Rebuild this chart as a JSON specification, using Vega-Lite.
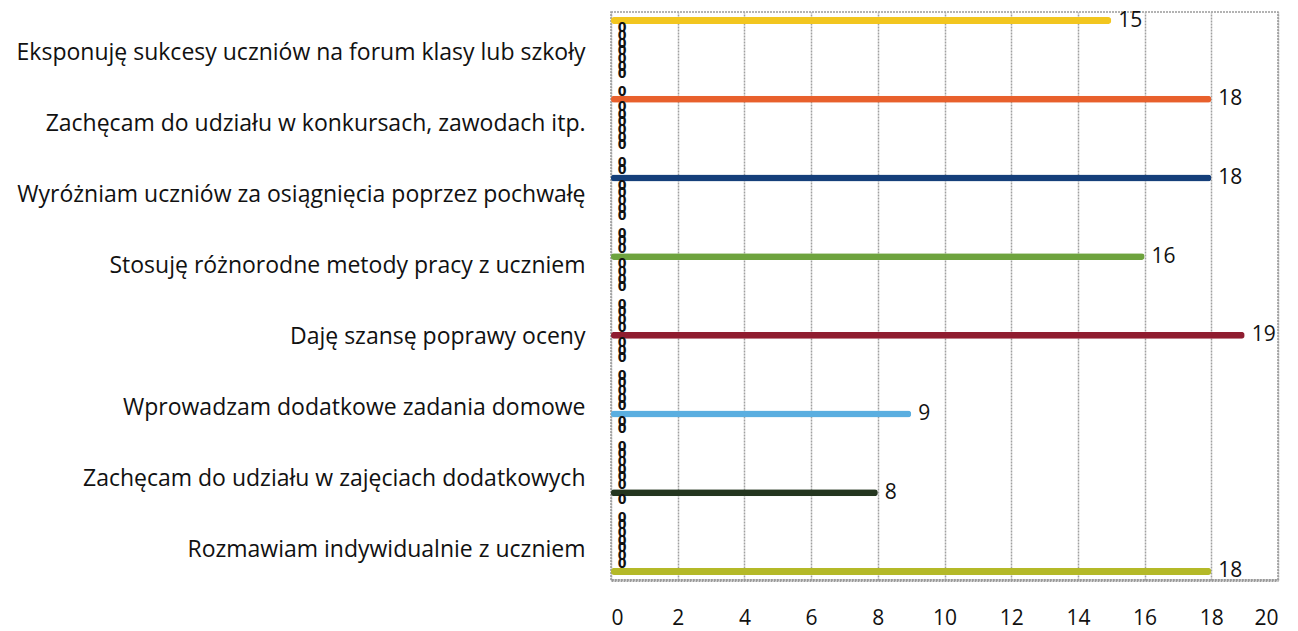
{
  "$schema": "https://vega.github.io/schema/vega-lite/v6.json",
  "autosize": {"type": "none"},
  "padding": {"left": 611, "top": 12, "right": 20, "bottom": 51},
  "width": 667,
  "height": 568,
  "background": "white",
  "config": {
    "font": "Open Sans",
    "view": {"stroke": "#9a9a9a", "strokeWidth": 1.5, "strokeDash": [2, 1]},
    "axis": {"labelFont": "Open Sans", "labelColor": "#111", "titleFont": "Open Sans"}
  },
  "data": {"values": [
    {"kategoria": "Eksponuję sukcesy uczniów na forum klasy lub szkoły", "seria": 1, "wartosc": 0},
    {"kategoria": "Eksponuję sukcesy uczniów na forum klasy lub szkoły", "seria": 2, "wartosc": 0},
    {"kategoria": "Eksponuję sukcesy uczniów na forum klasy lub szkoły", "seria": 3, "wartosc": 0},
    {"kategoria": "Eksponuję sukcesy uczniów na forum klasy lub szkoły", "seria": 4, "wartosc": 0},
    {"kategoria": "Eksponuję sukcesy uczniów na forum klasy lub szkoły", "seria": 5, "wartosc": 0},
    {"kategoria": "Eksponuję sukcesy uczniów na forum klasy lub szkoły", "seria": 6, "wartosc": 0},
    {"kategoria": "Eksponuję sukcesy uczniów na forum klasy lub szkoły", "seria": 7, "wartosc": 0},
    {"kategoria": "Eksponuję sukcesy uczniów na forum klasy lub szkoły", "seria": 8, "wartosc": 15},
    {"kategoria": "Zachęcam do udziału w konkursach, zawodach itp.", "seria": 1, "wartosc": 0},
    {"kategoria": "Zachęcam do udziału w konkursach, zawodach itp.", "seria": 2, "wartosc": 0},
    {"kategoria": "Zachęcam do udziału w konkursach, zawodach itp.", "seria": 3, "wartosc": 0},
    {"kategoria": "Zachęcam do udziału w konkursach, zawodach itp.", "seria": 4, "wartosc": 0},
    {"kategoria": "Zachęcam do udziału w konkursach, zawodach itp.", "seria": 5, "wartosc": 0},
    {"kategoria": "Zachęcam do udziału w konkursach, zawodach itp.", "seria": 6, "wartosc": 0},
    {"kategoria": "Zachęcam do udziału w konkursach, zawodach itp.", "seria": 7, "wartosc": 18},
    {"kategoria": "Zachęcam do udziału w konkursach, zawodach itp.", "seria": 8, "wartosc": 0},
    {"kategoria": "Wyróżniam uczniów za osiągnięcia poprzez pochwałę", "seria": 1, "wartosc": 0},
    {"kategoria": "Wyróżniam uczniów za osiągnięcia poprzez pochwałę", "seria": 2, "wartosc": 0},
    {"kategoria": "Wyróżniam uczniów za osiągnięcia poprzez pochwałę", "seria": 3, "wartosc": 0},
    {"kategoria": "Wyróżniam uczniów za osiągnięcia poprzez pochwałę", "seria": 4, "wartosc": 0},
    {"kategoria": "Wyróżniam uczniów za osiągnięcia poprzez pochwałę", "seria": 5, "wartosc": 0},
    {"kategoria": "Wyróżniam uczniów za osiągnięcia poprzez pochwałę", "seria": 6, "wartosc": 18},
    {"kategoria": "Wyróżniam uczniów za osiągnięcia poprzez pochwałę", "seria": 7, "wartosc": 0},
    {"kategoria": "Wyróżniam uczniów za osiągnięcia poprzez pochwałę", "seria": 8, "wartosc": 0},
    {"kategoria": "Stosuję różnorodne metody pracy z uczniem", "seria": 1, "wartosc": 0},
    {"kategoria": "Stosuję różnorodne metody pracy z uczniem", "seria": 2, "wartosc": 0},
    {"kategoria": "Stosuję różnorodne metody pracy z uczniem", "seria": 3, "wartosc": 0},
    {"kategoria": "Stosuję różnorodne metody pracy z uczniem", "seria": 4, "wartosc": 0},
    {"kategoria": "Stosuję różnorodne metody pracy z uczniem", "seria": 5, "wartosc": 16},
    {"kategoria": "Stosuję różnorodne metody pracy z uczniem", "seria": 6, "wartosc": 0},
    {"kategoria": "Stosuję różnorodne metody pracy z uczniem", "seria": 7, "wartosc": 0},
    {"kategoria": "Stosuję różnorodne metody pracy z uczniem", "seria": 8, "wartosc": 0},
    {"kategoria": "Daję szansę poprawy oceny", "seria": 1, "wartosc": 0},
    {"kategoria": "Daję szansę poprawy oceny", "seria": 2, "wartosc": 0},
    {"kategoria": "Daję szansę poprawy oceny", "seria": 3, "wartosc": 0},
    {"kategoria": "Daję szansę poprawy oceny", "seria": 4, "wartosc": 19},
    {"kategoria": "Daję szansę poprawy oceny", "seria": 5, "wartosc": 0},
    {"kategoria": "Daję szansę poprawy oceny", "seria": 6, "wartosc": 0},
    {"kategoria": "Daję szansę poprawy oceny", "seria": 7, "wartosc": 0},
    {"kategoria": "Daję szansę poprawy oceny", "seria": 8, "wartosc": 0},
    {"kategoria": "Wprowadzam dodatkowe zadania domowe", "seria": 1, "wartosc": 0},
    {"kategoria": "Wprowadzam dodatkowe zadania domowe", "seria": 2, "wartosc": 0},
    {"kategoria": "Wprowadzam dodatkowe zadania domowe", "seria": 3, "wartosc": 9},
    {"kategoria": "Wprowadzam dodatkowe zadania domowe", "seria": 4, "wartosc": 0},
    {"kategoria": "Wprowadzam dodatkowe zadania domowe", "seria": 5, "wartosc": 0},
    {"kategoria": "Wprowadzam dodatkowe zadania domowe", "seria": 6, "wartosc": 0},
    {"kategoria": "Wprowadzam dodatkowe zadania domowe", "seria": 7, "wartosc": 0},
    {"kategoria": "Wprowadzam dodatkowe zadania domowe", "seria": 8, "wartosc": 0},
    {"kategoria": "Zachęcam do udziału w zajęciach dodatkowych", "seria": 1, "wartosc": 0},
    {"kategoria": "Zachęcam do udziału w zajęciach dodatkowych", "seria": 2, "wartosc": 8},
    {"kategoria": "Zachęcam do udziału w zajęciach dodatkowych", "seria": 3, "wartosc": 0},
    {"kategoria": "Zachęcam do udziału w zajęciach dodatkowych", "seria": 4, "wartosc": 0},
    {"kategoria": "Zachęcam do udziału w zajęciach dodatkowych", "seria": 5, "wartosc": 0},
    {"kategoria": "Zachęcam do udziału w zajęciach dodatkowych", "seria": 6, "wartosc": 0},
    {"kategoria": "Zachęcam do udziału w zajęciach dodatkowych", "seria": 7, "wartosc": 0},
    {"kategoria": "Zachęcam do udziału w zajęciach dodatkowych", "seria": 8, "wartosc": 0},
    {"kategoria": "Rozmawiam indywidualnie z uczniem", "seria": 1, "wartosc": 18},
    {"kategoria": "Rozmawiam indywidualnie z uczniem", "seria": 2, "wartosc": 0},
    {"kategoria": "Rozmawiam indywidualnie z uczniem", "seria": 3, "wartosc": 0},
    {"kategoria": "Rozmawiam indywidualnie z uczniem", "seria": 4, "wartosc": 0},
    {"kategoria": "Rozmawiam indywidualnie z uczniem", "seria": 5, "wartosc": 0},
    {"kategoria": "Rozmawiam indywidualnie z uczniem", "seria": 6, "wartosc": 0},
    {"kategoria": "Rozmawiam indywidualnie z uczniem", "seria": 7, "wartosc": 0},
    {"kategoria": "Rozmawiam indywidualnie z uczniem", "seria": 8, "wartosc": 0}
  ]},
  "encoding": {
    "y": {
      "field": "kategoria", "type": "nominal",
      "sort": [
        "Eksponuję sukcesy uczniów na forum klasy lub szkoły",
        "Zachęcam do udziału w konkursach, zawodach itp.",
        "Wyróżniam uczniów za osiągnięcia poprzez pochwałę",
        "Stosuję różnorodne metody pracy z uczniem",
        "Daję szansę poprawy oceny",
        "Wprowadzam dodatkowe zadania domowe",
        "Zachęcam do udziału w zajęciach dodatkowych",
        "Rozmawiam indywidualnie z uczniem"
      ],
      "scale": {"paddingInner": 0.144, "paddingOuter": 0.072},
      "axis": {"title": null, "ticks": false, "domain": false, "labelFontSize": 23, "labelPadding": 26, "labelOffset": 5, "labelLimit": 700}
    },
    "yOffset": {
      "field": "seria", "type": "ordinal", "sort": "descending",
      "scale": {"paddingInner": 0.1, "paddingOuter": 0}
    },
    "x": {
      "field": "wartosc", "type": "quantitative",
      "scale": {"domain": [0, 20], "nice": false},
      "axis": {"title": null, "values": [0, 2, 4, 6, 8, 10, 12, 14, 16, 18, 20], "labelFontSize": 21, "labelPadding": 27, "ticks": false, "domain": true, "domainColor": "#9a9a9a", "domainWidth": 3, "domainDash": [2, 1], "grid": true, "gridColor": "#a0a0a0", "gridWidth": 1.5, "gridDash": [2, 1]}
    }
  },
  "layer": [
    {
      "mark": {"type": "bar", "cornerRadius": 3},
      "encoding": {
        "color": {
          "field": "seria", "type": "ordinal", "legend": null,
          "scale": {"domain": [1, 2, 3, 4, 5, 6, 7, 8], "range": ["#b4b928", "#24361f", "#5aaee0", "#8f1d30", "#6ea33e", "#153f7a", "#e8602c", "#f2c61f"]}
        }
      }
    },
    {
      "transform": [{"filter": "datum.wartosc > 0"}],
      "mark": {"type": "text", "align": "left", "baseline": "middle", "dx": 7, "fontSize": 21, "font": "Open Sans", "color": "#111"},
      "encoding": {"text": {"field": "wartosc", "type": "quantitative"}}
    },
    {
      "transform": [{"filter": "datum.wartosc == 0"}],
      "mark": {"type": "text", "align": "center", "baseline": "middle", "dx": 11, "fontSize": 14, "fontWeight": "bold", "font": "DejaVu Sans Condensed", "color": "#111"},
      "encoding": {"text": {"field": "wartosc", "type": "quantitative"}}
    }
  ]
}
